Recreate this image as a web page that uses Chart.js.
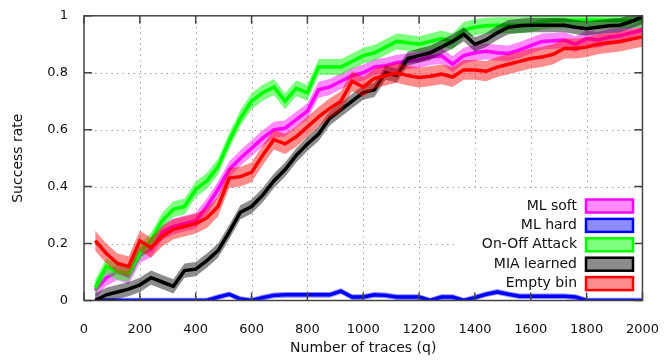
<!DOCTYPE html>
<html>
<head>
<meta charset="utf-8">
<script src="https://cdn.jsdelivr.net/npm/chart.js@4"></script>
<style>
  html, body { margin: 0; padding: 0; background: #fff; }
</style>
</head>
<body>
<canvas id="chart" width="672" height="360"></canvas>
<script>
// number of traces (x axis)
const traces = [40, 80, 120, 160, 200, 240, 280, 320, 360, 400,
  440, 480, 520, 560, 600, 640, 680, 720, 760, 800,
  840, 880, 920, 960, 1000, 1040, 1080, 1120, 1160, 1200,
  1240, 1280, 1320, 1360, 1400, 1440, 1480, 1520, 1560, 1600,
  1640, 1680, 1720, 1760, 1800, 1840, 1880, 1920, 1960, 2000];

const mlSoft = [0.035, 0.08, 0.10, 0.085, 0.16, 0.18, 0.24, 0.26, 0.27, 0.28,
  0.33, 0.39, 0.46, 0.50, 0.535, 0.57, 0.60, 0.605, 0.635, 0.665,
  0.74, 0.75, 0.77, 0.79, 0.80, 0.82, 0.825, 0.835, 0.84, 0.845,
  0.855, 0.86, 0.83, 0.86, 0.87, 0.875, 0.87, 0.868, 0.88, 0.895,
  0.91, 0.912, 0.915, 0.90, 0.92, 0.915, 0.925, 0.93, 0.94, 0.95];

const mlHard = [0, 0, 0, 0, 0, 0, 0, 0, 0, 0,
  0, 0.012, 0.022, 0.005, 0, 0.01, 0.018, 0.02, 0.02, 0.02,
  0.02, 0.02, 0.033, 0.012, 0.012, 0.02, 0.018, 0.012, 0.012, 0.012,
  0, 0.012, 0.012, 0, 0.01, 0.022, 0.03, 0.022, 0.015, 0.015,
  0.015, 0.015, 0.015, 0.012, 0, 0, 0, 0, 0, 0];

const onOff = [0.045, 0.12, 0.10, 0.095, 0.17, 0.21, 0.28, 0.32, 0.33, 0.39,
  0.42, 0.47, 0.56, 0.64, 0.70, 0.73, 0.75, 0.70, 0.745, 0.73,
  0.82, 0.82, 0.82, 0.84, 0.86, 0.87, 0.89, 0.91, 0.905, 0.90,
  0.91, 0.92, 0.91, 0.95, 0.96, 0.965, 0.967, 0.967, 0.967, 0.97,
  0.98, 0.984, 0.984, 0.984, 0.984, 0.984, 0.984, 0.984, 0.984, 0.984];

const miaLearned = [0.0, 0.02, 0.03, 0.04, 0.055, 0.08, 0.065, 0.05, 0.105, 0.11,
  0.14, 0.175, 0.24, 0.31, 0.33, 0.37, 0.42, 0.46, 0.51, 0.55,
  0.585, 0.64, 0.67, 0.70, 0.73, 0.74, 0.80, 0.79, 0.85, 0.86,
  0.87, 0.89, 0.91, 0.935, 0.90, 0.915, 0.94, 0.96, 0.965, 0.967,
  0.967, 0.967, 0.967, 0.96, 0.955, 0.96, 0.965, 0.967, 0.98, 0.996];

const emptyBin = [0.21, 0.165, 0.13, 0.12, 0.21, 0.185, 0.225, 0.25, 0.26, 0.27,
  0.29, 0.33, 0.43, 0.435, 0.45, 0.51, 0.565, 0.55, 0.575, 0.61,
  0.645, 0.675, 0.70, 0.77, 0.75, 0.78, 0.79, 0.80, 0.79, 0.783,
  0.788, 0.795, 0.785, 0.81, 0.81, 0.805, 0.82, 0.83, 0.84, 0.85,
  0.855, 0.865, 0.885, 0.885, 0.89, 0.90, 0.905, 0.91, 0.918, 0.926];

// half width of the shaded band around each curve
const bandWidth = [0.028, 0.01, 0.028, 0.025, 0.035];

const labels = ["ML soft", "ML hard", "On-Off Attack", "MIA learned", "Empty bin"];
const lineColors = ["#ff00ff", "#0000ff", "#00ff00", "#000000", "#ff0000"];
const bandColors = ["rgba(255,0,255,0.45)", "rgba(0,0,255,0.45)", "rgba(0,255,0,0.5)",
  "rgba(0,0,0,0.45)", "rgba(255,0,0,0.45)"];
const allSeries = [mlSoft, mlHard, onOff, miaLearned, emptyBin];

const xTicks = [0, 200, 400, 600, 800, 1000, 1200, 1400, 1600, 1800, 2000];
const yTicks = [0, 0.2, 0.4, 0.6, 0.8, 1];

const FONT = "'DejaVu Sans', sans-serif";

// build datasets; index 0 is drawn on top, so the last series goes first
const datasets = [];
for (let s = allSeries.length - 1; s >= 0; s--) {
  const vals = allSeries[s];
  const w = bandWidth[s];
  const base = datasets.length;
  datasets.push({
    data: traces.map((q, i) => ({ x: q, y: vals[i] })),
    borderColor: lineColors[s],
    borderWidth: 3.5,
    pointRadius: 0,
    fill: false,
    tension: 0
  });
  datasets.push({
    data: traces.map((q, i) => ({ x: q, y: vals[i] + w })),
    borderWidth: 0,
    pointRadius: 0,
    backgroundColor: bandColors[s],
    fill: { target: base + 2 }
  });
  datasets.push({
    data: traces.map((q, i) => ({ x: q, y: vals[i] - w })),
    borderWidth: 0,
    pointRadius: 0,
    fill: false
  });
}

const keyBox = { left: 455, top: 189, right: 641, bottom: 293 };

const gnuplotLook = {
  id: "gnuplotLook",
  beforeDatasetsDraw(chart) {
    const { ctx, chartArea: a, scales: { x, y } } = chart;
    ctx.save();
    ctx.strokeStyle = "#a0a0a0";
    ctx.lineWidth = 1;
    ctx.setLineDash([1.5, 4]);
    xTicks.slice(1, -1).forEach(v => {
      const px = Math.round(x.getPixelForValue(v)) + 0.5;
      ctx.beginPath(); ctx.moveTo(px, a.top); ctx.lineTo(px, a.bottom); ctx.stroke();
    });
    yTicks.slice(1, -1).forEach(v => {
      const py = Math.round(y.getPixelForValue(v)) + 0.5;
      ctx.beginPath(); ctx.moveTo(a.left, py); ctx.lineTo(a.right, py); ctx.stroke();
    });
    ctx.setLineDash([]);
    ctx.fillStyle = "#fff";
    ctx.fillRect(keyBox.left, keyBox.top, keyBox.right - keyBox.left, keyBox.bottom - keyBox.top);
    ctx.restore();
  },
  afterDatasetsDraw(chart) {
    const { ctx, chartArea: a, scales: { x, y } } = chart;
    ctx.save();
    ctx.strokeStyle = "#444";
    ctx.lineWidth = 1.5;
    const tl = 8;
    xTicks.forEach(v => {
      const px = x.getPixelForValue(v);
      ctx.beginPath();
      ctx.moveTo(px, a.bottom); ctx.lineTo(px, a.bottom - tl);
      ctx.moveTo(px, a.top); ctx.lineTo(px, a.top + tl);
      ctx.stroke();
    });
    yTicks.forEach(v => {
      const py = y.getPixelForValue(v);
      ctx.beginPath();
      ctx.moveTo(a.left, py); ctx.lineTo(a.left + tl, py);
      ctx.moveTo(a.right, py); ctx.lineTo(a.right - tl, py);
      ctx.stroke();
    });
    ctx.lineWidth = 1.5;
    ctx.strokeRect(a.left, a.top, a.right - a.left, a.bottom - a.top);

    // key
    ctx.font = "14px " + FONT;
    ctx.textAlign = "right";
    ctx.textBaseline = "middle";
    labels.forEach((lab, i) => {
      const cy = 206 + i * 19.4;
      ctx.fillStyle = "#111";
      ctx.fillText(lab, 577, cy);
      ctx.fillStyle = "#fff";
      ctx.fillRect(586, cy - 6.5, 47, 13);
      ctx.fillStyle = bandColors[i];
      ctx.fillRect(586, cy - 6.5, 47, 13);
      ctx.strokeStyle = lineColors[i];
      ctx.lineWidth = 2.5;
      ctx.strokeRect(586, cy - 6.5, 47, 13);
    });
    ctx.restore();
  }
};

new Chart(document.getElementById("chart"), {
  type: "line",
  data: { datasets },
  options: {
    responsive: false,
    animation: false,
    events: [],
    layout: { padding: { top: 15, right: 21, left: 0, bottom: 0 } },
    plugins: { legend: { display: false }, tooltip: { enabled: false } },
    scales: {
      x: {
        type: "linear",
        min: 0,
        max: 2000,
        afterFit(scale) { scale.height = 59.5; },
        afterBuildTicks(scale) { scale.ticks = xTicks.map(v => ({ value: v })); },
        grid: { display: false },
        border: { display: false },
        ticks: { autoSkip: false, maxRotation: 0, padding: 13, color: "#111",
          font: { family: FONT, size: 13 }, callback: v => String(v) },
        title: { display: true, text: "Number of traces (q)", color: "#111",
          font: { family: FONT, size: 14 }, padding: { top: 0, bottom: 3 } }
      },
      y: {
        min: 0,
        max: 1,
        afterFit(scale) { scale.width = 84; },
        afterBuildTicks(scale) { scale.ticks = yTicks.map(v => ({ value: v })); },
        grid: { display: false },
        border: { display: false },
        ticks: { padding: 8, color: "#111", font: { family: FONT, size: 13 }, callback: v => String(v) },
        title: { display: true, text: "Success rate", color: "#111",
          font: { family: FONT, size: 14 }, padding: { top: 10, bottom: 0 } }
      }
    }
  },
  plugins: [gnuplotLook]
});
</script>
</body>
</html>
